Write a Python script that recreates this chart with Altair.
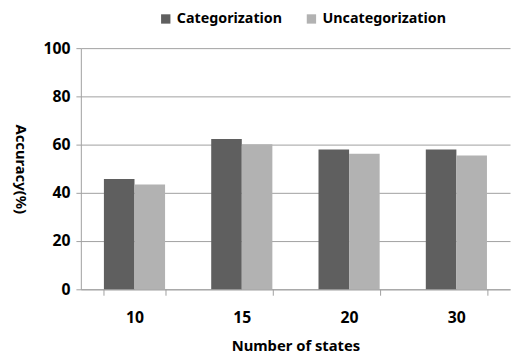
import altair as alt
import pandas as pd

states = ["10", "15", "20", "30"]
categorization = [45.7, 62.3, 58.0, 58.0]
uncategorization = [43.5, 60.1, 56.2, 55.5]
series = ["Categorization", "Uncategorization"]
colors = ["#5f5f5f", "#b2b2b2"]

rows = []
for i, s in enumerate(states):
    rows.append({"states": s, "series": series[0], "acc": categorization[i]})
    rows.append({"states": s, "series": series[1], "acc": uncategorization[i]})
df = pd.DataFrame(rows)

FONT = "Noto Sans"

chart = alt.Chart(df).mark_bar().encode(
    x=alt.X("states:N", sort=states, title="Number of states",
            scale=alt.Scale(paddingInner=0.43, paddingOuter=0.215),
            axis=alt.Axis(labelAngle=0, tickBand="extent", grid=False,
                          domainColor="#a0a0a0", tickColor="#a0a0a0", tickSize=6,
                          labelPadding=15, titlePadding=13, titleFontSize=15)),
    xOffset=alt.XOffset("series:N", sort=series),
    y=alt.Y("acc:Q", title="Accuracy(%)",
            scale=alt.Scale(domain=[0, 100]),
            axis=alt.Axis(values=[0, 20, 40, 60, 80, 100], gridColor="#a0a0a0",
                          domainColor="#a0a0a0", tickColor="#a0a0a0", tickSize=5,
                          labelPadding=6, titlePadding=16, titleFontSize=15,
                          titleAngle=90, titleBaseline="top")),
    color=alt.Color("series:N", sort=series,
                    scale=alt.Scale(domain=series, range=colors),
                    legend=alt.Legend(title=None, orient="none", direction="horizontal",
                                      legendX=79, legendY=-37, symbolType="square",
                                      symbolSize=90, symbolStrokeWidth=0,
                                      columnPadding=22, labelOffset=4)),
).properties(
    width=436, height=245,
    autosize=alt.AutoSizeParams(type="none"),
    padding={"left": 74, "top": 38, "right": 2, "bottom": 66},
).configure_view(stroke=None).configure_axis(
    labelFont=FONT, titleFont=FONT, labelFontSize=16, titleFontSize=15,
    labelFontWeight="bold", titleFontWeight="bold", labelColor="#000", titleColor="#000",
).configure_legend(
    labelFont=FONT, labelFontSize=14.5, labelFontWeight="bold", labelColor="#000",
)

chart.save("out.html", embed_options={"renderer": "svg", "actions": False})
